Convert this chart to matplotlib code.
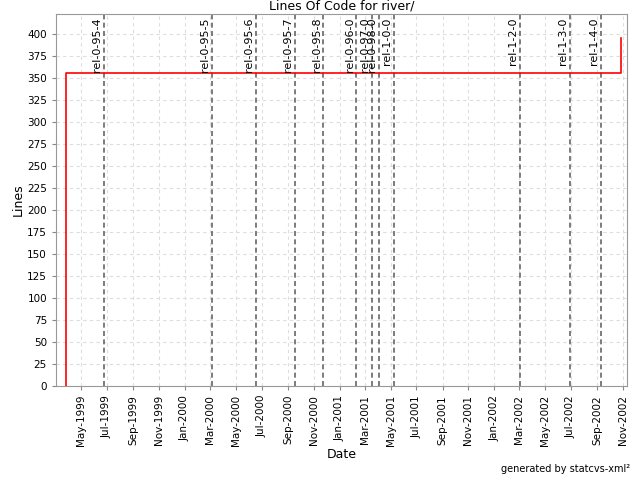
import matplotlib
matplotlib.use("Agg")
import matplotlib.pyplot as plt
import matplotlib.dates as mdates
import numpy as np

# datos de la serie (lineas de codigo)
fechas = np.array(["1999-03-27", "1999-03-27", "2002-10-26", "2002-10-26"], dtype="datetime64[D]")
lineas = [0, 356, 356, 395]

# etiquetas de version
tags = ["rel-0-95-4", "rel-0-95-5", "rel-0-95-6", "rel-0-95-7", "rel-0-95-8",
        "rel-0-96-0", "rel-0-97-0", "rel-0-98-0", "rel-1-0-0",
        "rel-1-2-0", "rel-1-3-0", "rel-1-4-0"]
tag_fechas = np.array(["1999-06-24", "2000-03-05", "2000-06-17", "2000-09-17", "2000-11-23",
                       "2001-02-09", "2001-03-18", "2001-04-04", "2001-05-09",
                       "2002-03-03", "2002-06-29", "2002-09-10"], dtype="datetime64[D]")

fig = plt.figure(figsize=(6.4, 4.8), dpi=100)
ax = fig.add_axes([0.0875, 0.196, 0.892, 0.775])

ax.plot(fechas, lineas, color="red", lw=1.2, zorder=3)

for t, f in zip(tags, tag_fechas):
    ax.axvline(f, color="#666666", ls=(0, (3, 2)), lw=1.2, zorder=2)
    ax.text(f - np.timedelta64(4, "D"), 0.99, t, transform=ax.get_xaxis_transform(),
            rotation=90, ha="right", va="top", fontsize=8, color="black")

ax.set_xlim(np.datetime64("1999-03-03"), np.datetime64("2002-11-10"))
ax.set_ylim(0, 422.7)
ax.set_yticks(np.arange(0, 401, 25))

ax.xaxis.set_major_locator(mdates.MonthLocator(bymonth=[1, 3, 5, 7, 9, 11]))
ax.xaxis.set_major_formatter(mdates.DateFormatter("%b-%Y"))
plt.setp(ax.get_xticklabels(), rotation=90)

ax.grid(True, color="#dddddd", ls=(0, (3, 3)), lw=0.8)
ax.set_axisbelow(True)
for s in ax.spines.values():
    s.set_color("#999999")
ax.tick_params(colors="#888888", labelcolor="black", labelsize=7.5, length=3)

ax.set_title("Lines Of Code for river/", fontsize=9, pad=3)
ax.set_xlabel("Date", fontsize=9, labelpad=1)
ax.set_ylabel("Lines", fontsize=9, labelpad=2)

fig.text(0.985, 0.012, "generated by statcvs-xml\u00b2", ha="right", va="bottom", fontsize=7)

fig.savefig("out.png", dpi=100)
